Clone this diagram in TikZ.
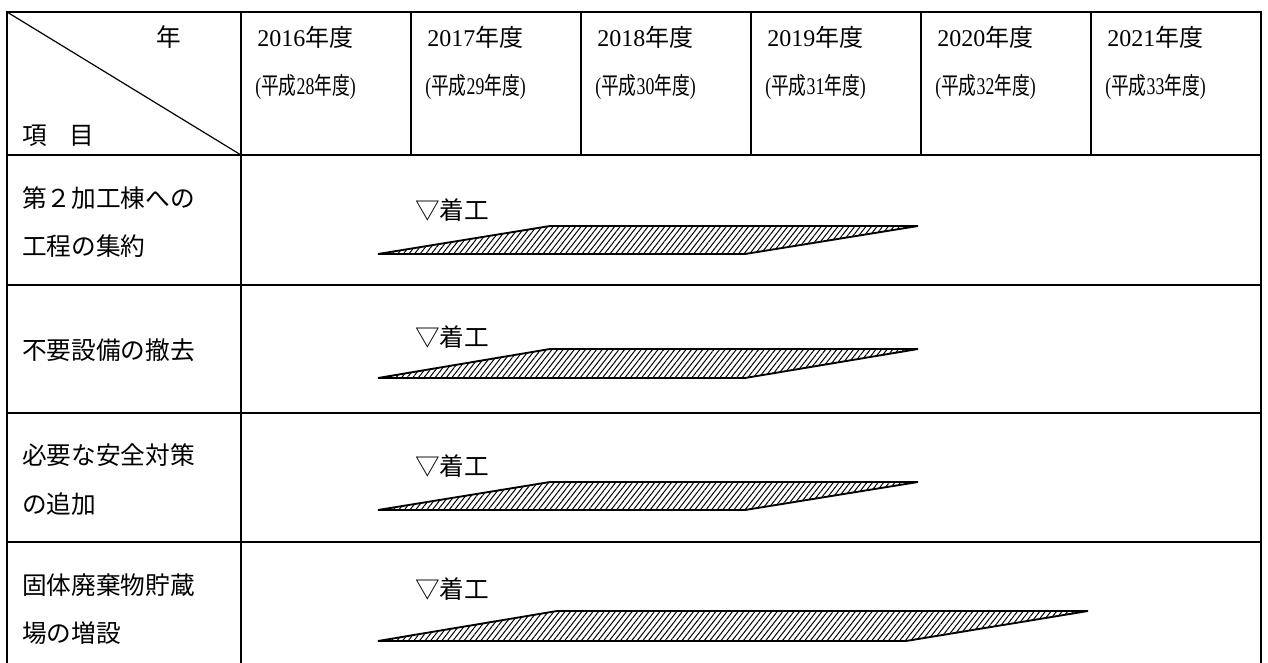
\documentclass[tikz,border=0pt]{standalone}
\usepackage{fontspec}
\usepackage{graphicx}
\setmainfont{Liberation Serif}
\newfontfamily\cjk{Noto Sans CJK JP}
\usetikzlibrary{patterns.meta}
\newcommand\yrtop[1]{#1{\cjk 年度}}
\newcommand\yrsub[1]{\scalebox{0.74}[1]{({\cjk 平成}#1{\cjk 年度})}}
\begin{document}
\begin{tikzpicture}[x=0.75pt,y=-0.75pt,
  gridline/.style={line width=2.1pt},
  diag/.style={line width=0.9pt},
  txt/.style={anchor=west,inner sep=0pt,font=\fontsize{18}{21}\selectfont},
  lbl/.style={anchor=west,inner sep=0pt,font=\cjk\fontsize{18.5}{21}\selectfont},
  bar/.style={draw,line width=1.4pt,line join=miter,
    pattern={Lines[angle=52,distance=3.3pt,line width=0.75pt]}}]
\useasboundingbox (0,0) rectangle (1268,663);
% grid
\foreach \yy in {12,155,285,413,542} \draw[gridline] (6,\yy) -- (1262,\yy);
\foreach \xx in {7,241,1261} \draw[gridline] (\xx,11) -- (\xx,680);
\foreach \xx in {411,581,751,921,1091} \draw[gridline] (\xx,11) -- (\xx,155);
\coordinate (tl) at (7,12);
\coordinate (hc) at (241,155);
\draw[diag] (tl) -- (hc);
% header texts
\node[lbl] (nen) at (156,37) {年};
\node[lbl] (koumoku) at (22,136) {項\hspace{0.9em}目};
\foreach \xx/\y/\h [count=\i] in {257/2016/28,427/2017/29,597/2018/30,767/2019/31,937/2020/32,1107/2021/33}{
  \node[txt] (y\i) at (\xx,37) {\yrtop{\y}};
  \node[txt] (h\i) at (\xx-2,87) {\yrsub{\h}};
}
% row labels
\node[lbl] (r1a) at (22,198) {第２加工棟への};
\node[lbl] (r1b) at (22,246) {工程の集約};
\node[lbl] (r2) at (22,350) {不要設備の撤去};
\node[lbl] (r3a) at (22,455) {必要な安全対策};
\node[lbl] (r3b) at (22,504) {の追加};
\node[lbl] (r4a) at (22,585) {固体廃棄物貯蔵};
\node[lbl] (r4b) at (22,633) {場の増設};
% start markers
\node[lbl] (s1) at (415,210) {▽着工};
\node[lbl] (s2) at (415,337) {▽着工};
\node[lbl] (s3) at (415,466) {▽着工};
\node[lbl] (s4) at (415,589) {▽着工};
% bars
\draw[bar] (378,254) -- (550,226) -- (918,226) -- (745,254) -- cycle;
\draw[bar] (378,378) -- (550,349) -- (918,349) -- (745,378) -- cycle;
\draw[bar] (378,510) -- (550,482) -- (918,482) -- (745,510) -- cycle;
\draw[bar] (378,641) -- (557,611) -- (1088,611) -- (906,641) -- cycle;
\end{tikzpicture}
\end{document}
